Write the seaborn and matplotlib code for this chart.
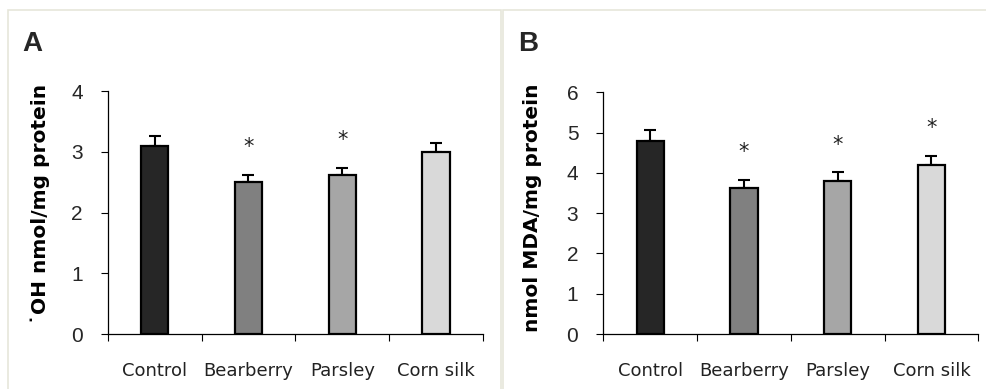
import matplotlib
matplotlib.use("Agg")
import matplotlib.pyplot as plt
from matplotlib.patches import Rectangle
from matplotlib.ticker import FixedLocator
import numpy as np
import pandas as pd
import seaborn as sns

# ---- data ----
categories = ["Control", "Bearberry", "Parsley", "Corn silk"]
oh_values = [3.1, 2.5, 2.62, 3.0]
oh_errors = [0.16, 0.12, 0.12, 0.15]
oh_significant = [False, True, True, False]
mda_values = [4.8, 3.62, 3.81, 4.2]
mda_errors = [0.26, 0.2, 0.2, 0.23]
mda_significant = [False, True, True, True]
bar_colors = ["#262626", "#808080", "#a6a6a6", "#d9d9d9"]
oh_ticks = [0, 1, 2, 3, 4]
mda_ticks = [0, 1, 2, 3, 4, 5, 6]
oh_ylabel = "\u02d9OH nmol/mg protein"
mda_ylabel = "nmol MDA/mg protein"
panel_letters = ["A", "B"]

sns.set_theme(style="white")
plt.rcParams["font.family"] = ["DejaVu Sans"]

W, H = 987, 389
fig = plt.figure(figsize=(W / 100, H / 100), dpi=100)
fig.patch.set_facecolor("white")

# panel frames
frame_col = "#e6e6da"
fig.add_artist(Rectangle((8 / W, -0.05), (501 - 8) / W, 1.05 - 10 / H,
                         transform=fig.transFigure, fill=False,
                         edgecolor=frame_col, linewidth=1.2))
fig.add_artist(Rectangle((503 / W, -0.05), 0.6, 1.05 - 10 / H,
                         transform=fig.transFigure, fill=False,
                         edgecolor=frame_col, linewidth=1.2))


def px_axes(x0, x1, ytop, ybot):
    return fig.add_axes([x0 / W, 1 - ybot / H, (x1 - x0) / W, (ybot - ytop) / H])


def draw_panel(ax, values, errors, sig, ticks, ylabel, letter, label_x, label_y, letter_pos):
    df = pd.DataFrame({"cat": categories, "val": values})
    sns.barplot(data=df, x="cat", y="val", hue="cat", palette=bar_colors,
                order=categories, hue_order=categories, legend=False,
                width=0.29, errorbar=None, edgecolor="black", linewidth=1.6,
                saturation=1, ax=ax, zorder=3)
    xs = np.arange(len(categories))
    vals = np.asarray(values)
    errs = np.asarray(errors)
    ax.errorbar(xs, vals, yerr=[np.zeros_like(errs), errs], fmt="none",
                ecolor="black", elinewidth=1.5, capsize=4.6, capthick=1.5, zorder=2)
    for x, v, e, s in zip(xs, vals, errs, sig):
        if s:
            ax.annotate("*", xy=(x, v + e), xytext=(0, 20), textcoords="offset points",
                        ha="center", va="center", fontsize=15, color="#222222")
    ax.set_xlim(-0.5, len(categories) - 0.5)
    ax.set_ylim(ticks[0], ticks[-1])
    ax.set_yticks(ticks)
    ax.set_yticklabels([str(t) for t in ticks], fontfamily="Liberation Sans", fontsize=15)
    ax.set_xticks(xs)
    ax.set_xticklabels(categories, fontsize=13, color="#222222")
    ax.xaxis.set_minor_locator(FixedLocator(np.arange(len(categories) + 1) - 0.5))
    ax.tick_params(axis="x", which="major", length=0, pad=20)
    ax.tick_params(axis="x", which="minor", length=5, width=0.8, direction="out",
                   color="black", bottom=True)
    ax.tick_params(axis="y", length=5, width=0.8, direction="out", color="black",
                   pad=13, left=True)
    for side in ["top", "right"]:
        ax.spines[side].set_visible(False)
    for side in ["left", "bottom"]:
        ax.spines[side].set_color("black")
        ax.spines[side].set_linewidth(0.9)
    ax.set_xlabel("")
    ax.set_ylabel(ylabel, fontsize=14.5, fontweight="bold", color="black")
    ax.yaxis.set_label_coords(label_x, label_y)
    ax.set_facecolor("none")
    fig.text(letter_pos[0] / W, 1 - letter_pos[1] / H, letter, fontsize=20,
             fontweight="bold", fontfamily="Liberation Sans", ha="left", va="bottom")


axA = px_axes(107.7, 483, 91, 334)
draw_panel(axA, oh_values, oh_errors, oh_significant, oh_ticks, oh_ylabel,
           panel_letters[0], -0.154, 0.535, (22, 57))
axB = px_axes(603.3, 978.3, 92.3, 334)
draw_panel(axB, mda_values, mda_errors, mda_significant, mda_ticks, mda_ylabel,
           panel_letters[1], -0.163, 0.523, (518, 57))

fig.savefig("out.png", dpi=100)
